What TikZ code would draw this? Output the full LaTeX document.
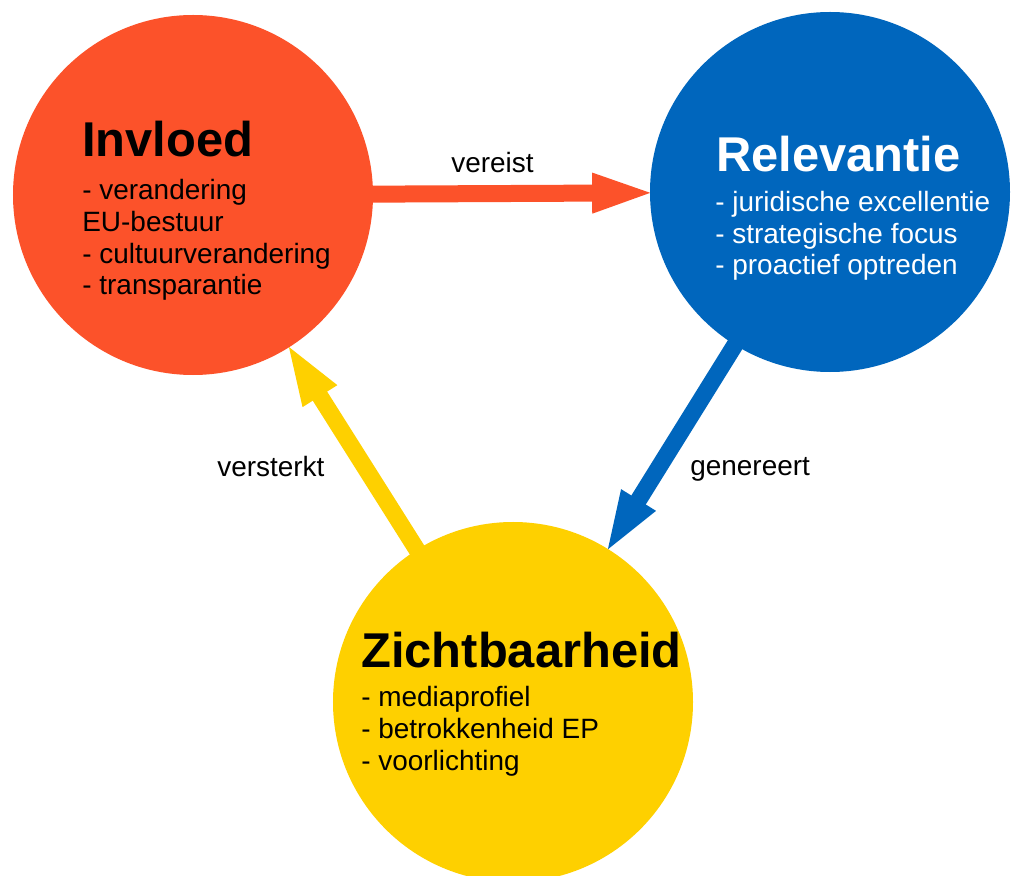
\documentclass[tikz,border=0pt]{standalone}
\usepackage{fontspec}
\setmainfont{Liberation Sans}
\usetikzlibrary{positioning, arrows.meta}

\definecolor{invloedred}{RGB}{252,82,42}
\definecolor{relevantieblue}{RGB}{0,102,189}
\definecolor{zichtyellow}{RGB}{254,208,0}

\begin{document}
\begin{tikzpicture}[
        x=0.2mm, y=-0.2mm,
        bubble/.style = {circle, fill=#1, minimum size=72mm, inner sep=0pt},
        heading/.style = {anchor=base west, inner sep=0pt,
                    font=\bfseries\fontsize{27.8}{32}\selectfont},
        items/.style = {anchor=base west, inner sep=0pt, align=left,
                    font=\fontsize{15.9}{18.2}\selectfont},
        tag/.style = {anchor=base west, inner sep=0pt,
                    font=\fontsize{15.9}{18.2}\selectfont},
        link/.style = {draw=#1, line width=3.4mm, shorten <=-1mm, shorten >=-1.5mm,
                    -{Triangle[length=13mm, width=7mm]}}
                    ]
        \useasboundingbox (0,0) rectangle (1011,876);
        \node (invloed) [bubble=invloedred] at (193,195) {};
        \node (relevantie) [bubble=relevantieblue] at (830,192) {};
        \node (zicht) [bubble=zichtyellow] at (513,702) {};
        %
        \draw[link=invloedred] (invloed) -- (relevantie);
        \draw[link=relevantieblue] (relevantie) -- (zicht);
        \draw[link=zichtyellow] (zicht) -- (invloed);
        %
        % base anchor of the lists sits on their last line
        \node (t1) [heading] at (82,157) {Invloed};
        \node (b1) [items] at (82,295) {- verandering\\EU-bestuur\\- cultuurverandering\\- transparantie};
        \node (t2) [heading, text=white] at (716,172) {Relevantie};
        \node (b2) [items, text=white] at (715,275) {- juridische excellentie\\- strategische focus\\- proactief optreden};
        \node (t3) [heading] at (361,667) {Zichtbaarheid};
        \node (b3) [items] at (361,770) {- mediaprofiel\\- betrokkenheid EP\\- voorlichting};
        %
        \node (l1) [tag] at (451,173) {vereist};
        \node (l2) [tag] at (690,475) {genereert};
        \node (l3) [tag] at (217,477) {versterkt};
    \end{tikzpicture}
\end{document}
